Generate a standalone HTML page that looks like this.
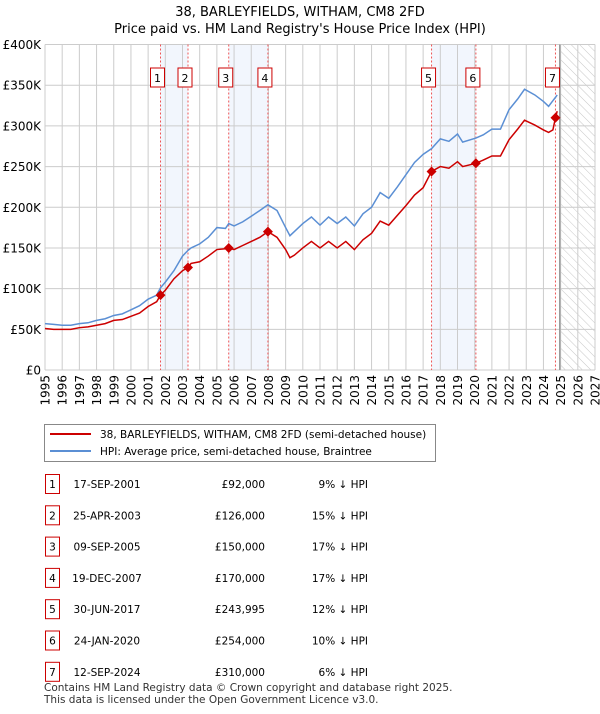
<!DOCTYPE html>
<html><head><meta charset="utf-8"><style>
body{margin:0;background:#fff;font-family:"DejaVu Sans","Liberation Sans",sans-serif;}
svg text{font-family:"DejaVu Sans","Liberation Sans",sans-serif;}
</style></head><body>
<svg id="chart" width="600" height="710" viewBox="0 0 600 710" xmlns="http://www.w3.org/2000/svg">
<defs><pattern id="hatch" width="6" height="6" patternUnits="userSpaceOnUse" patternTransform="rotate(-45)"><line x1="0" y1="0" x2="0" y2="6" stroke="#c8c8c8" stroke-width="1"/></pattern></defs>
<text x="300" y="16" text-anchor="middle" font-size="13">38, BARLEYFIELDS, WITHAM, CM8 2FD</text>
<text x="300" y="33" text-anchor="middle" font-size="13">Price paid vs. HM Land Registry's House Price Index (HPI)</text>
<g id="plot"></g>
<rect x="44.5" y="424.5" width="391" height="37" fill="none" stroke="#888"/>
<g><line x1="50" y1="434" x2="91" y2="434" stroke="#cc0000" stroke-width="2"/><text x="100" y="438" font-size="10.5">38, BARLEYFIELDS, WITHAM, CM8 2FD (semi-detached house)</text></g>
<g><line x1="50" y1="451" x2="91" y2="451" stroke="#5b8fd4" stroke-width="2"/><text x="100" y="455" font-size="10.5">HPI: Average price, semi-detached house, Braintree</text></g>
<g id="table"></g>
<text x="44" y="691" font-size="10.5" fill="#333">Contains HM Land Registry data © Crown copyright and database right 2025.</text>
<text x="44" y="703" font-size="10.5" fill="#333">This data is licensed under the Open Government Licence v3.0.</text>
</svg>
<script>
const times=[1995,1995.5,1996,1996.5,1997,1997.5,1998,1998.5,1999,1999.5,2000,2000.5,2001,2001.5,2001.72,2002,2002.5,2003,2003.32,2003.5,2004,2004.5,2005,2005.5,2005.69,2006,2006.5,2007,2007.5,2007.97,2008.5,2009,2009.25,2009.5,2010,2010.5,2011,2011.5,2012,2012.5,2013,2013.5,2014,2014.5,2015,2015.5,2016,2016.5,2017,2017.49,2018,2018.5,2019,2019.3,2020.07,2020.5,2021,2021.5,2022,2022.5,2022.9,2023.5,2024,2024.3,2024.55,2024.7,2024.8];
const hpiValues=[57,56,55,55,57,58,61,63,67,69,74,79,87,92,101,108,122,140,147,150,155,163,175,174,180,177,182,189,196,203,196,175,165,170,180,188,178,188,180,188,177,192,200,218,211,225,240,255,265,272,284,281,290,280,285,289,296,296,320,333,345,338,330,324,331,335,338];
const priceValues=[51,50,50,50,52,53,55,57,61,62,66,70,78,84,92,98,112,122,126,131,133,140,148,149,150,148,153,158,163,170,163,148,138,141,150,158,150,158,150,158,148,160,168,183,178,190,202,215,224,244,250,248,256,250,254,258,263,263,283,296,307,301,295,292,295,310,318];
const saleTimes=[2001.72,2003.32,2005.69,2007.97,2017.49,2020.07,2024.7];
const salePrices=[92,126,150,170,243.995,254,310];
const saleLabels=["1","2","3","4","5","6","7"];
const saleDates=["17-SEP-2001","25-APR-2003","09-SEP-2005","19-DEC-2007","30-JUN-2017","24-JAN-2020","12-SEP-2024"];
const salePriceText=["£92,000","£126,000","£150,000","£170,000","£243,995","£254,000","£310,000"];
const saleHpiText=["9% ↓ HPI","15% ↓ HPI","17% ↓ HPI","17% ↓ HPI","12% ↓ HPI","10% ↓ HPI","6% ↓ HPI"];
const yTicks=[0,50,100,150,200,250,300,350,400];
const yTickLabels=["£0","£50K","£100K","£150K","£200K","£250K","£300K","£350K","£400K"];
const xYears=[1995,1996,1997,1998,1999,2000,2001,2002,2003,2004,2005,2006,2007,2008,2009,2010,2011,2012,2013,2014,2015,2016,2017,2018,2019,2020,2021,2022,2023,2024,2025,2026,2027];
const shadedPairs=[[0,1],[2,3],[4,5]];

const X0=45,X1=595,Y0=370,Y1=44.5;
const xs=t=>X0+(t-1995)/(2027-1995)*(X1-X0);
const ys=v=>Y0-v/400*(Y0-Y1);
const NS="http://www.w3.org/2000/svg";
const plot=document.getElementById('plot');
function mk(tag,attrs,parent){const e=document.createElementNS(NS,tag);for(const k in attrs)e.setAttribute(k,attrs[k]);(parent||plot).appendChild(e);return e;}

let e=mk('rect',{x:X0,y:Y1,width:X1-X0,height:Y0-Y1,fill:'#fff'});


shadedPairs.forEach(p=>{const r=mk('rect',{x:xs(saleTimes[p[0]]),y:Y1,width:xs(saleTimes[p[1]])-xs(saleTimes[p[0]]),height:Y0-Y1,fill:'#f2f6fd'});

});
e=mk('rect',{x:xs(2025),y:Y1,width:X1-xs(2025),height:Y0-Y1,fill:'url(#hatch)'});


xYears.forEach(y=>{const l=mk('line',{x1:xs(y),x2:xs(y),y1:Y1,y2:Y0,stroke:'#ccc'});


const t=mk('text',{x:0,y:0,'font-size':12,'text-anchor':'end',transform:`translate(${xs(y)+4.5},${Y0+5}) rotate(-90)`});t.textContent=y;

});
yTicks.forEach((v,i)=>{const l=mk('line',{x1:X0,x2:X1,y1:ys(v),y2:ys(v),stroke:'#ccc'});


const t=mk('text',{x:X0-4,y:ys(v)+4.5,'font-size':12,'text-anchor':'end'});t.textContent=yTickLabels[i];

});
e=mk('line',{x1:xs(2024.95),x2:xs(2024.95),y1:Y1,y2:Y0,stroke:'#999','stroke-width':1.5});


saleTimes.forEach((t,i)=>{const l=mk('line',{x1:xs(t),x2:xs(t),y1:Y1,y2:Y0,stroke:'#ee5555','stroke-dasharray':'2,2'});

});
e=mk('polyline',{points:times.map((t,i)=>xs(t)+','+ys(hpiValues[i])).join(' '),fill:'none',stroke:'#5b8fd4','stroke-width':1.5});


e=mk('polyline',{points:times.map((t,i)=>xs(t)+','+ys(priceValues[i])).join(' '),fill:'none',stroke:'#cc0000','stroke-width':1.5});


saleTimes.forEach((t,i)=>{const cx=xs(t),cy=ys(salePrices[i]);
const d=mk('polygon',{points:`${cx},${cy-5} ${cx+5},${cy} ${cx},${cy+5} ${cx-5},${cy}`,fill:'#cc0000'});


const g=mk('g',{});


mk('rect',{x:cx-10,y:68,width:14,height:19,fill:'#fff',stroke:'#cc0000'},g);
const tx=mk('text',{x:cx-3,y:82,'font-size':11,'text-anchor':'middle'},g);tx.textContent=saleLabels[i];});

const tbl=document.getElementById('table');
saleLabels.forEach((lab,i)=>{const y=484+i*31.3;
const g=mk('g',{},tbl);


mk('rect',{x:45.5,y:y-9.5,width:14,height:19,fill:'#fff',stroke:'#cc0000'},g);
let t=mk('text',{x:52.5,y:y+4,'font-size':10.5,'text-anchor':'middle'},g);t.textContent=lab;
t=mk('text',{x:107,y:y+4,'font-size':10.5,'text-anchor':'middle'},g);t.textContent=saleDates[i];
t=mk('text',{x:265,y:y+4,'font-size':10.5,'text-anchor':'end'},g);t.textContent=salePriceText[i];
t=mk('text',{x:368,y:y+4,'font-size':10.5,'text-anchor':'end'},g);t.textContent=saleHpiText[i];});
</script>
</body></html>
